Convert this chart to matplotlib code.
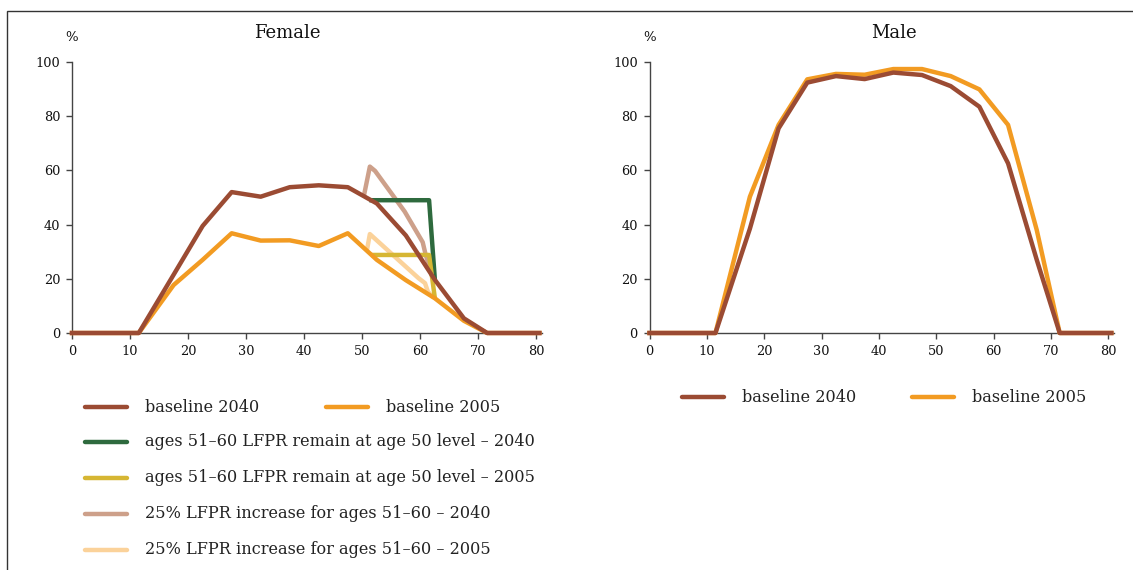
import matplotlib
matplotlib.use("Agg")
import matplotlib.pyplot as plt
from matplotlib.lines import Line2D
from matplotlib.patches import Rectangle

plt.rcParams['font.family'] = ['DejaVu Serif']

# ages (group midpoints)
ages = [0, 5, 11.5, 17.5, 22.5, 27.5, 32.5, 37.5, 42.5, 47.5, 52.5, 57.5, 62.5, 67.5, 71.5, 80.5]

female_2040 = [0, 0, 0, 21.5, 39.5, 52, 50.3, 53.8, 54.5, 53.8, 47.8, 36, 19.6, 5.4, 0, 0]
female_2005 = [0, 0, 0, 17.7, 27, 36.8, 34.1, 34.2, 32.1, 36.8, 27, 19.5, 12.8, 4.5, 0, 0]

male_2040 = [0, 0, 0, 38.5, 75.5, 92.4, 94.8, 93.7, 96.1, 95.2, 91.1, 83.5, 62.6, 27, 0, 0]
male_2005 = [0, 0, 0, 50.3, 76.8, 93.6, 95.6, 95.3, 97.4, 97.4, 94.8, 89.9, 76.8, 38, 0, 0]

# scenario lines (female only)
flat_2040_x = [51.2, 61.5, 62.5]
flat_2040_y = [49, 49, 19.6]
flat_2005_x = [51.5, 61.5, 62.5]
flat_2005_y = [28.8, 28.8, 12.8]
inc_2040_x = [50.3, 51.3, 52.2, 57.3, 60.4, 60.9, 62.0]
inc_2040_y = [50.9, 61.4, 59.8, 44.8, 33.5, 29, 21]
inc_2005_x = [50.8, 51.3, 59.7, 60.8, 61.3, 62.2]
inc_2005_y = [30.6, 36.5, 20.2, 18.4, 15.2, 13.2]

c_2040 = '#9b4b33'
c_2005 = '#f29b22'
c_flat40 = '#2e6a3e'
c_flat05 = '#d6b633'
c_inc40 = '#cda08a'
c_inc05 = '#fbd29a'
lw = 3.2

fig = plt.figure(figsize=(11.33, 5.70), dpi=100)

# outer frame (cropped box)
fig.add_artist(Rectangle((7 / 1133, -0.2), 1.2, 1.2 - 11 / 570,
                         transform=fig.transFigure, fill=False,
                         edgecolor='#333333', linewidth=1.0))

ax1 = fig.add_axes([72 / 1133, 1 - 333 / 570, 470.3 / 1133, 271 / 570])
ax2 = fig.add_axes([649.5 / 1133, 1 - 333 / 570, 464.7 / 1133, 271 / 570])

ax1.plot(inc_2040_x, inc_2040_y, color=c_inc40, lw=lw, solid_capstyle='butt')
ax1.plot(inc_2005_x, inc_2005_y, color=c_inc05, lw=lw, solid_capstyle='butt')
ax1.plot(flat_2040_x, flat_2040_y, color=c_flat40, lw=lw, solid_capstyle='butt')
ax1.plot(flat_2005_x, flat_2005_y, color=c_flat05, lw=lw, solid_capstyle='butt')
ax1.plot(ages, female_2005, color=c_2005, lw=lw, clip_on=False, zorder=3)
ax1.plot(ages, female_2040, color=c_2040, lw=lw, clip_on=False, zorder=4)

ax2.plot(ages, male_2005, color=c_2005, lw=lw, clip_on=False, zorder=3)
ax2.plot(ages, male_2040, color=c_2040, lw=lw, clip_on=False, zorder=4)

titles = [(ax1, 'Female', 0.457), (ax2, 'Male', 0.526)]
for ax, title, tx in titles:
    ax.set_xlim(0, 81)
    ax.set_ylim(0, 100)
    ax.set_xticks(range(0, 81, 10))
    ax.set_yticks(range(0, 101, 20))
    for s in ['top', 'right']:
        ax.spines[s].set_visible(False)
    for s in ['left', 'bottom']:
        ax.spines[s].set_color('#444444')
        ax.spines[s].set_linewidth(1.0)
    ax.tick_params(length=4.5, width=1.0, color='#444444', pad=4, labelsize=9.3, labelcolor='#111111')
    ax.text(tx, 1.107, title, transform=ax.transAxes, ha='center', va='center', fontsize=13, color='#111111')
    ax.text(0, 1.089, '%', transform=ax.transAxes, ha='center', va='center', fontsize=9.5, color='#111111')

# legends drawn in figure pixel positions
def legend_item(x0, y, color, label):
    fig.add_artist(Line2D([x0 / 1133, (x0 + 42) / 1133], [1 - y / 570, 1 - y / 570],
                          transform=fig.transFigure, color=color, lw=lw, solid_capstyle='round'))
    fig.text((x0 + 60) / 1133, 1 - y / 570, label, ha='left', va='center', fontsize=11.6, color='#222222')

legend_item(85, 407, c_2040, 'baseline 2040')
legend_item(326, 407, c_2005, 'baseline 2005')
legend_item(85, 442, c_flat40, 'ages 51\u201360 LFPR remain at age 50 level \u2013 2040')
legend_item(85, 478, c_flat05, 'ages 51\u201360 LFPR remain at age 50 level \u2013 2005')
legend_item(85, 514, c_inc40, '25% LFPR increase for ages 51\u201360 \u2013 2040')
legend_item(85, 550, c_inc05, '25% LFPR increase for ages 51\u201360 \u2013 2005')

legend_item(682, 397, c_2040, 'baseline 2040')
legend_item(912, 397, c_2005, 'baseline 2005')

fig.savefig('out.png', dpi=100)
